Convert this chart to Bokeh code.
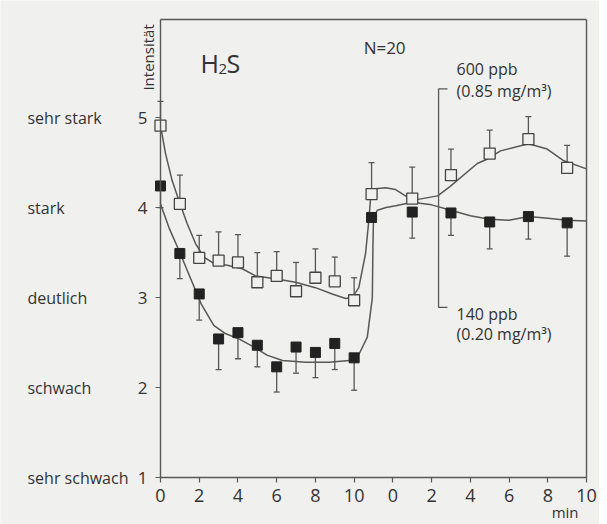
import math

from bokeh.plotting import figure
from bokeh.models import FixedTicker, Label, LinearAxis
from bokeh.embed import file_html
from bokeh.resources import INLINE

# x = position on the time axis in minutes; the after-exposure block starts at 12
# (its ticks are relabelled 0..10)
minutes = [0, 1, 2, 3, 4, 5, 6, 7, 8, 9, 10, 10.9, 13, 15, 17, 19, 21]

# 600 ppb (0.85 mg/m3), open squares, error bar upwards
ppb600_mean = [4.91, 4.04, 3.44, 3.41, 3.39, 3.17, 3.24, 3.07, 3.22, 3.18, 2.97,
               4.15, 4.10, 4.36, 4.60, 4.76, 4.44]
ppb600_upper = [5.18, 4.36, 3.69, 3.73, 3.70, 3.50, 3.51, 3.39, 3.54, 3.45, 3.22,
                4.50, 4.45, 4.65, 4.86, 5.01, 4.69]

# 140 ppb (0.20 mg/m3), filled squares, error bar downwards
ppb140_mean = [4.24, 3.49, 3.04, 2.54, 2.61, 2.47, 2.23, 2.45, 2.39, 2.49, 2.33,
               3.89, 3.95, 3.94, 3.84, 3.90, 3.83]
ppb140_lower = [4.00, 3.21, 2.75, 2.20, 2.32, 2.23, 1.95, 2.16, 2.11, 2.20, 1.97,
                None, 3.66, 3.69, 3.54, 3.65, 3.46]

# fitted curves
curve600_x = [0, 0.26, 0.6, 0.98, 1.38, 1.81, 2.24, 2.75, 3.45, 4.22, 4.91, 5.94,
              6.97, 8.0, 8.87, 9.56, 9.9, 10.24, 10.59, 10.76, 10.85, 11.11, 11.62,
              12.14, 13.02, 14.31, 14.93, 16.36, 16.89, 17.56, 19.0, 19.97, 20.83, 22]
curve600_y = [4.91, 4.6, 4.3, 4.06, 3.82, 3.6, 3.45, 3.38, 3.36, 3.32, 3.24, 3.21,
              3.17, 3.11, 3.04, 2.99, 3.0, 3.11, 3.49, 3.86, 4.11, 4.21, 4.22,
              4.2, 4.08, 4.13, 4.23, 4.49, 4.54, 4.63, 4.71, 4.65, 4.52, 4.43]

curve140_x = [0, 0.43, 1.0, 1.5, 2.1, 2.75, 3.35, 4.05, 4.9, 5.5, 6.3, 7.5, 8.7,
              9.75, 10.25, 10.68, 10.94, 10.97, 11.0, 11.2, 11.65, 12.15, 13.0,
              14.0, 15.0, 16.0, 17.0, 18.0, 19.0, 20.0, 21.0, 22]
curve140_y = [4.04, 3.78, 3.5, 3.24, 2.93, 2.69, 2.6, 2.54, 2.44, 2.36, 2.3, 2.28,
              2.28, 2.3, 2.37, 2.56, 3.0, 3.56, 3.89, 3.97, 4.0, 4.02, 4.06,
              4.03, 3.97, 3.91, 3.87, 3.86, 3.9, 3.88, 3.86, 3.85]

x_ticks = [0, 2, 4, 6, 8, 10, 12, 14, 16, 18, 20, 22]
x_tick_labels = ["0", "2", "4", "6", "8", "10", "0", "2", "4", "6", "8", "10"]
y_ticks = [1, 2, 3, 4, 5]
y_words = ["sehr schwach", "schwach", "deutlich", "stark", "sehr stark"]

FONT = "Open Sans"
INK = "#333333"
LINE = "#575757"
BG = "#f0f0ee"

X0, X1 = 0, 22      # box of the chart
Y0, Y1 = 1, 6.09

# the frame covers the whole canvas so that the texts outside the box are not clipped
p = figure(width=599, height=524, x_range=(-8.263, 22.671), y_range=(0.478, 6.301),
           output_backend="svg", toolbar_location=None, title=None,
           x_axis_location=None, y_axis_location=None,
           min_border=0, min_border_left=0, min_border_right=0,
           min_border_top=0, min_border_bottom=0)
p.background_fill_color = BG
p.border_fill_color = BG
p.outline_line_color = None
p.grid.visible = False


def box_axis(side, loc, bounds, ticks=None, labels=None):
    ax = LinearAxis(fixed_location=loc, bounds=bounds)
    ax.axis_line_color = LINE
    ax.axis_line_width = 1.4
    ax.minor_tick_line_color = None
    ax.ticker = FixedTicker(ticks=ticks or [])
    if ticks:
        ax.major_tick_line_color = LINE
        ax.major_tick_line_width = 1.2
        ax.major_tick_out = 5
        ax.major_tick_in = 0
        ax.major_label_text_font = FONT
        ax.major_label_text_color = INK
        if labels:
            ax.major_label_overrides = {t: s for t, s in zip(ticks, labels)}
    else:
        ax.major_tick_line_color = None
        ax.major_label_text_font_size = "0px"
    p.add_layout(ax, side)
    return ax


xax = box_axis("below", Y0, (X0, X1), x_ticks, x_tick_labels)
xax.major_label_text_font_size = "18px"
xax.major_label_standoff = 6
yax = box_axis("left", X0, (Y0, Y1), y_ticks)
yax.major_label_text_font_size = "17px"
yax.major_label_standoff = 8
box_axis("right", X1, (Y0, Y1))
box_axis("above", Y1, (X0, X1))

# error bars
up_x = [m for m, u in zip(minutes, ppb600_upper) if u is not None]
up_y0 = [v for v, u in zip(ppb600_mean, ppb600_upper) if u is not None]
up_y1 = [u for u in ppb600_upper if u is not None]
lo_x = [m for m, l in zip(minutes, ppb140_lower) if l is not None]
lo_y0 = [v for v, l in zip(ppb140_mean, ppb140_lower) if l is not None]
lo_y1 = [l for l in ppb140_lower if l is not None]

p.segment(x0=up_x, y0=up_y0, x1=up_x, y1=up_y1, line_color=LINE, line_width=1.3)
p.scatter(x=up_x, y=up_y1, marker="dash", size=6, line_color=LINE, line_width=1.3)
p.segment(x0=lo_x, y0=lo_y0, x1=lo_x, y1=lo_y1, line_color=LINE, line_width=1.3)
p.scatter(x=lo_x, y=lo_y1, marker="dash", size=6, line_color=LINE, line_width=1.3)

# fitted curves
p.line(curve600_x, curve600_y, line_color=LINE, line_width=1.5)
p.line(curve140_x, curve140_y, line_color=LINE, line_width=1.5)

# means
p.scatter(minutes, ppb600_mean, marker="square", size=11, fill_color=BG,
          line_color="#444444", line_width=1.3)
p.scatter(minutes, ppb140_mean, marker="square", size=10, fill_color="#222222",
          line_color="#222222", line_width=1.0)

# bracket pointing to the two series
bracket_x = [14.82, 14.36, 14.36, 14.82]
bracket_y = [5.32, 5.32, 2.89, 2.89]
p.line(bracket_x, bracket_y, line_color=LINE, line_width=1.3)


def lab(x, y, text, size="16px", **kw):
    kw.setdefault("text_baseline", "middle")
    p.add_layout(Label(x=x, y=y, text=text, text_font=FONT, text_font_size=size,
                       text_color=INK, **kw))


for v, w in zip(y_ticks, y_words):
    lab(-6.87, v, w)

lab(-0.67, 5.3, "Intensität", size="15px", angle=math.pi / 2, text_align="left")
lab(21.59, 0.62, "min", size="15px", text_align="right")

lab(2.07, 5.61, "H", size="25px", text_baseline="alphabetic")
lab(3.0, 5.54, "2", size="15px", text_baseline="alphabetic")
lab(3.41, 5.61, "S", size="25px", text_baseline="alphabetic")
lab(10.49, 5.78, "N=20", size="17px")
lab(15.29, 5.54, "600 ppb")
lab(15.29, 5.29, "(0.85 mg/m³)")
lab(15.29, 2.82, "140 ppb")
lab(15.29, 2.6, "(0.20 mg/m³)")

open("out.html", "w").write(file_html(p, INLINE))
